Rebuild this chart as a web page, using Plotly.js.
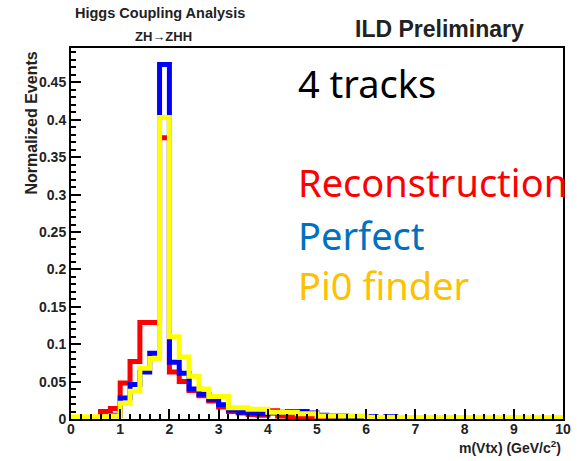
<!DOCTYPE html>
<html><head><meta charset="utf-8">
<script src="https://cdn.plot.ly/plotly-3.0.1.min.js"></script>
<style>body{margin:0;background:#fff}#c{width:577px;height:461px}</style>
</head><body><div id="c"></div>
<script>
// bin width 0.2 GeV/c^2, range 0-10 (50 bins)
const binWidth = 0.2;
const reconstruction = [0,0,0,0.010,0.014,0.048,0.077,0.129,0.129,0.376,
  0.063,0.050,0.038,0.031,0.024,0.016,0.010,0.008,0.006,0.005,
  0.011,0.004,0.003,0.003,0.002,0.002,0.001,0.002,0.001,0.002,
  0.001,0.001,0.001,0,0.001,0,0,0,0,0,
  0,0,0,0,0,0,0,0,0,0];
const perfect = [0,0,0,0.002,0.005,0.028,0.046,0.063,0.088,0.474,
  0.076,0.061,0.040,0.033,0.026,0.019,0.012,0.009,0.008,0.007,
  0.008,0.009,0.010,0.010,0.008,0.005,0.004,0.004,0.003,0.003,
  0.003,0.002,0.003,0.002,0.002,0.002,0.002,0.001,0.002,0.001,
  0.002,0.001,0.001,0.001,0.001,0.001,0.001,0.001,0.001,0.001];
const pi0finder = [0.003,0.003,0.003,0.003,0.004,0.021,0.037,0.068,0.081,0.403,
  0.110,0.083,0.057,0.040,0.030,0.030,0.015,0.015,0.013,0.013,
  0.009,0.009,0.009,0.007,0.007,0.004,0.004,0.004,0.004,0.004,
  0.002,0.002,0.002,0.002,0.002,0.002,0.002,0.002,0.002,0.002,
  0.002,0.002,0.002,0.002,0.002,0.002,0.002,0.002,0.002,0.002];
const yTickVals = [0,0.05,0.1,0.15,0.2,0.25,0.3,0.35,0.4,0.45];
const yTickText = ["0","0.05","0.1","0.15","0.2","0.25","0.3","0.35","0.4","0.45"];
const xTickVals = [0,1,2,3,4,5,6,7,8,9,10];

function step(vals){
  const x=[],y=[];
  for(let i=0;i<vals.length;i++){x.push(i*binWidth);y.push(vals[i]);}
  x.push(vals.length*binWidth);y.push(vals[vals.length-1]);
  return {x,y};
}
function tr(vals,color){
  const s=step(vals);
  return {x:s.x,y:s.y,type:'scatter',mode:'lines',line:{shape:'hv',color:color,width:5},hoverinfo:'skip',showlegend:false};
}
const data=[tr(reconstruction,'#ff0000'),tr(perfect,'#0000ff'),tr(pi0finder,'#ffff00')];
const axFont={family:'Liberation Sans, Arial, sans-serif',size:14,color:'#222',weight:'bold'};
const layout={
  width:577,height:461,margin:{l:71,r:14,t:48,b:42},
  paper_bgcolor:'#fff',plot_bgcolor:'#fff',
  xaxis:{range:[0,10],tickvals:xTickVals,ticks:'inside',ticklen:10,tickwidth:2,tickcolor:'#000',ticklabelstandoff:-4,
    minor:{dtick:0.2,ticks:'inside',ticklen:5,tickwidth:2,tickcolor:'#000'},
    showline:true,linewidth:2,linecolor:'#000',mirror:true,showgrid:false,zeroline:false,tickfont:axFont},
  yaxis:{range:[0,0.496],tickvals:yTickVals,ticktext:yTickText,ticks:'inside',ticklen:10,tickwidth:2,tickcolor:'#000',
    minor:{dtick:0.01,ticks:'inside',ticklen:5,tickwidth:2,tickcolor:'#000'},
    showline:true,linewidth:2,linecolor:'#000',mirror:true,showgrid:false,zeroline:false,tickfont:axFont},
  annotations:[
    {text:'Higgs Coupling Analysis',xref:'paper',yref:'paper',x:(160-71)/492,y:(419-13)/371,xanchor:'center',yanchor:'middle',showarrow:false,font:{family:'Liberation Sans, Arial',size:14.5,color:'#222',weight:'bold'}},
    {text:'ZH→ZHH',xref:'paper',yref:'paper',x:(163-71)/492,y:(419-36)/371,xanchor:'center',yanchor:'middle',showarrow:false,font:{family:'Liberation Sans, Arial',size:13,color:'#222',weight:'bold'}},
    {text:'ILD Preliminary',xref:'paper',yref:'paper',x:(439-71)/492,y:(419-29)/371,xanchor:'center',yanchor:'middle',showarrow:false,font:{family:'Liberation Sans, Arial',size:23,color:'#222',weight:'bold'}},
    {text:'m(Vtx) (GeV/c<sup>2</sup>)',xref:'paper',yref:'paper',x:1,y:(419-447)/371,xanchor:'right',yanchor:'middle',showarrow:false,font:{family:'Liberation Sans, Arial',size:14,color:'#222',weight:'bold'}},
    {text:'Normalized Events',xref:'paper',yref:'paper',x:(31-71)/492,y:(419-50)/371,xanchor:'center',yanchor:'top',textangle:-90,showarrow:false,font:{family:'Liberation Sans, Arial',size:16,color:'#222',weight:'bold'}},
    {text:'4 tracks',xref:'paper',yref:'paper',x:(296-71)/492,y:(419-83)/371,xanchor:'left',yanchor:'middle',showarrow:false,font:{family:'Noto Sans, sans-serif',size:38,color:'#000'}},
    {text:'Reconstruction',xref:'paper',yref:'paper',x:(296-71)/492,y:(419-182)/371,xanchor:'left',yanchor:'middle',showarrow:false,font:{family:'Noto Sans, sans-serif',size:38,color:'#ff0000'}},
    {text:'Perfect',xref:'paper',yref:'paper',x:(296-71)/492,y:(419-235)/371,xanchor:'left',yanchor:'middle',showarrow:false,font:{family:'Noto Sans, sans-serif',size:38,color:'#0070c0'}},
    {text:'Pi0 finder',xref:'paper',yref:'paper',x:(296-71)/492,y:(419-285)/371,xanchor:'left',yanchor:'middle',showarrow:false,font:{family:'Noto Sans, sans-serif',size:38,color:'#ffc000'}}
  ]
};
Plotly.newPlot('c',data,layout,{displayModeBar:false,staticPlot:true});
</script></body></html>
